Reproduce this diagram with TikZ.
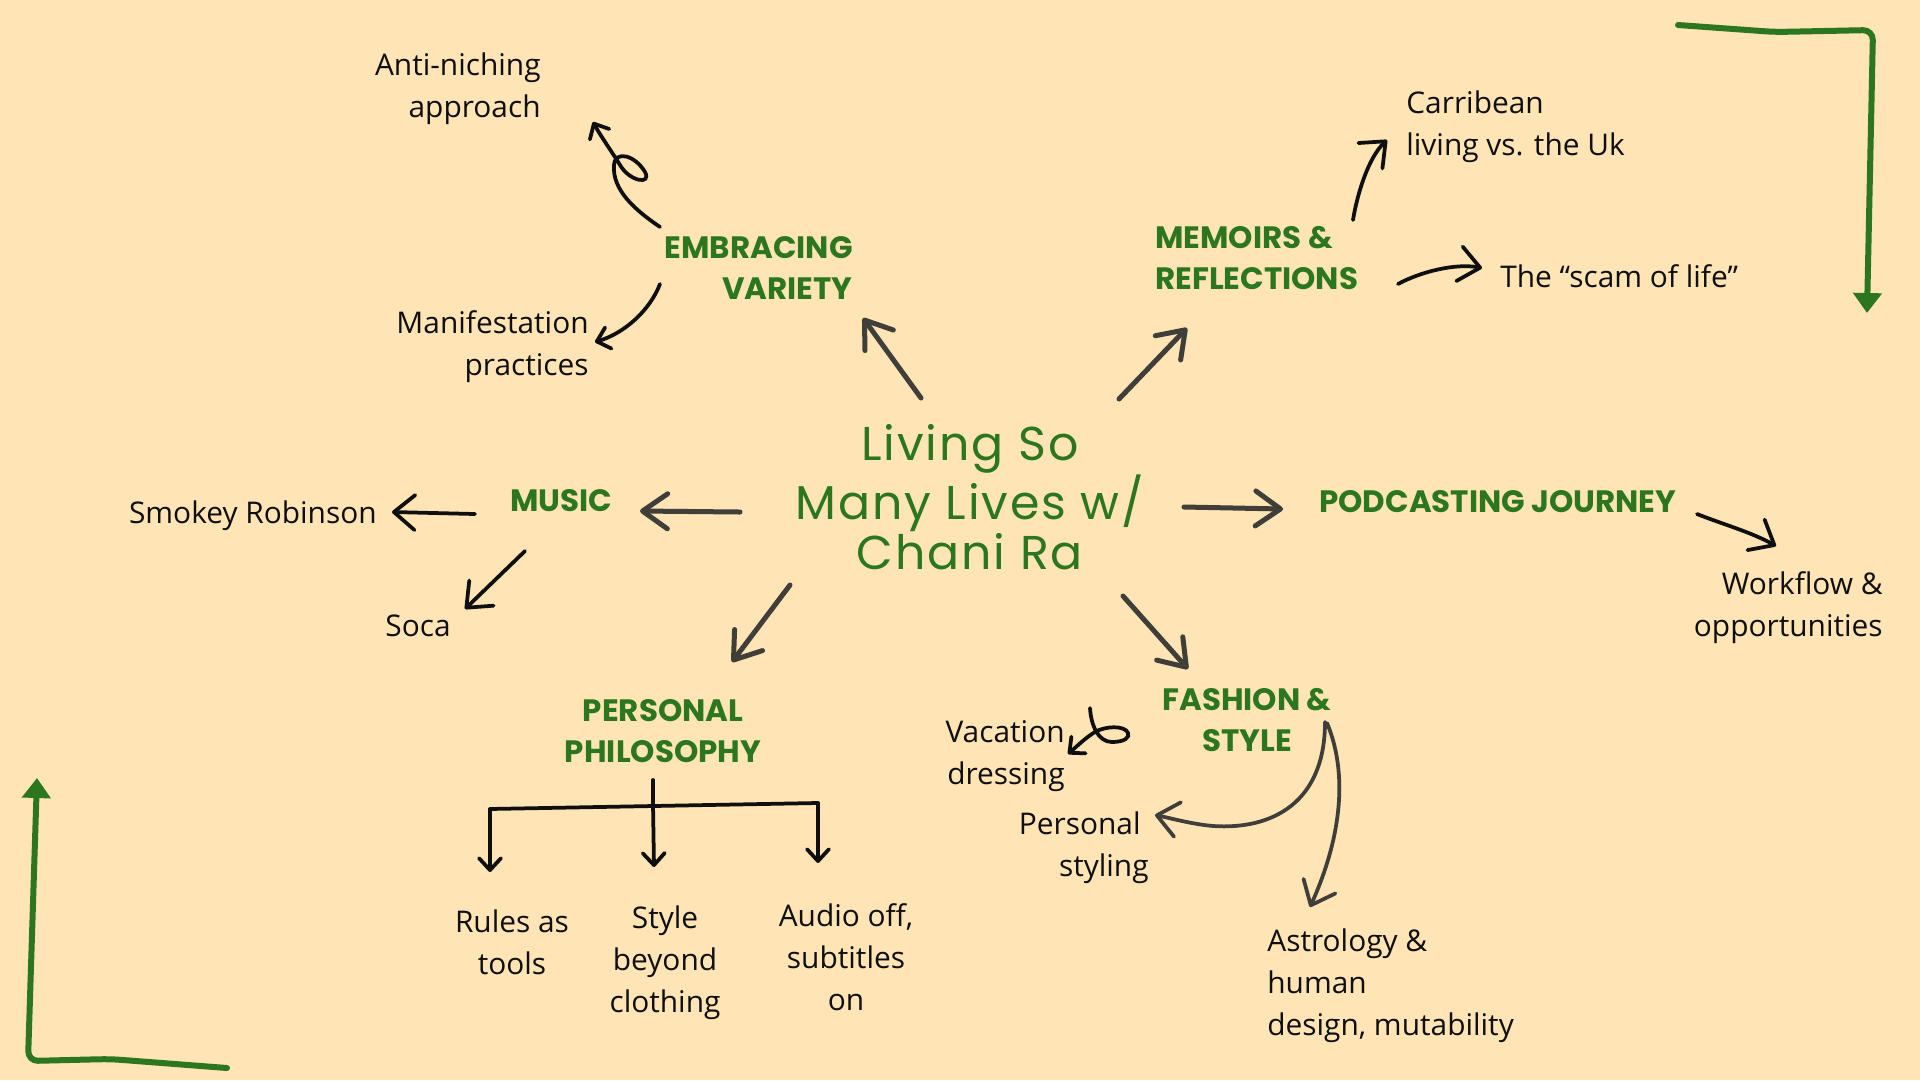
\documentclass[tikz,border=0pt]{standalone}
\usepackage{fontspec}
\setmainfont{Open Sans}
\newfontfamily\headfont{Poppins}
\newfontfamily\titlefont{Poppins}[LetterSpace=4]
\usetikzlibrary{arrows.meta}
\definecolor{bgcream}{HTML}{FFE4B5}
\definecolor{hdgreen}{HTML}{2B761F}
\definecolor{arrgray}{HTML}{3F3E39}
\definecolor{inkblack}{HTML}{0F0F0F}
\tikzset{
	txt/.style={font={\fontsize{17pt}{23.8pt}\selectfont}, text=inkblack, inner sep=0pt, yshift=-2.27pt},
	hdg/.style={font={\headfont\bfseries\fontsize{17.6pt}{23.2pt}\selectfont}, text=hdgreen, inner sep=0pt},
	maintitle/.style={font={\titlefont\fontsize{27pt}{27pt}\selectfont}, text=hdgreen, align=center, inner sep=0pt},
	mainarr/.style={draw=arrgray, line width=0.1cm, line cap=round, -{Straight Barb[round, length=0.5cm, width=0.7cm]}},
	subline/.style={draw=inkblack, line width=0.075cm, line cap=round},
	subarr/.style={subline, -{Straight Barb[round, length=0.24cm, width=0.44cm]}},
	bigsub/.style={subline, -{Straight Barb[round, length=0.42cm, width=0.7cm]}},
	grayarr/.style={bigsub, draw=arrgray},
	greenarr/.style={draw=hdgreen, line width=0.12cm, line cap=round, rounded corners=0.2cm,
		-{Triangle[length=0.4cm, width=0.56cm]}},
}
\begin{document}
\begin{tikzpicture}[x=0.02cm, y=-0.02cm]
	\fill[bgcream] (0,0) rectangle (1920,1080);
	\useasboundingbox (0,0) rectangle (1920,1080);
	
	\node[maintitle] (title) at (970,497) {Living So\\Many Lives w/\\Chani Ra};
	
	\node[hdg, align=right, anchor=east] (embr) at (853,268) {EMBRACING\\VARIETY};
	\node[txt, align=right, anchor=east] (anti) at (541,85) {Anti-niching\\approach};
	\node[txt, align=right, anchor=east] (manif) at (589,343) {Manifestation\\practices};
	
	\node[hdg, align=left, anchor=west] (memo) at (1155,258) {MEMOIRS \&\\REFLECTIONS};
	\node[txt, align=left, anchor=west] (carib) at (1406,123) {Carribean\\living vs. the Uk};
	\node[txt, anchor=west] (scam) at (1500,272) {The “scam of life”};
	
	\node[hdg] (music) at (561,501) {MUSIC};
	\node[txt, anchor=east] (smokey) at (377,512) {Smokey Robinson};
	\node[txt] (soca) at (418,622) {Soca};
	
	\node[hdg, anchor=west] (podcast) at (1319,502) {PODCASTING JOURNEY};
	\node[txt, align=right, anchor=east] (workflow) at (1883,604) {Workflow \&\\opportunities};
	
	\node[hdg, align=center] (philo) at (663,731) {PERSONAL\\PHILOSOPHY};
	\node[txt, align=center] (rules) at (512,938) {Rules as\\tools};
	\node[txt, align=center] (beyond) at (665,959) {Style\\beyond\\clothing};
	\node[txt, align=center] (audio) at (846,953) {Audio off,\\subtitles\\on};
	
	\node[hdg, align=center] (fashion) at (1247,720) {FASHION \&\\STYLE};
	\node[txt, align=right, anchor=east] (vacation) at (1065,752) {Vacation\\dressing};
	\node[txt, align=right, anchor=east] (pstyling) at (1149,844) {Personal\kern0.16cm\\styling};
	\node[txt, align=left, anchor=west] (astro) at (1267,982) {Astrology \&\\human\\design, mutability};
	
	% spokes from the title
	\draw[mainarr] ([shift={(-49,-99)}]title.center) -- ([shift={(10,50)}]embr.east);
	\draw[mainarr] ([shift={(149,-98)}]title.center) -- ([shift={(32,70)}]memo.west);
	\draw[mainarr] ([shift={(-230,15)}]title.center) -- ([shift={(79,10)}]music.center);
	\draw[mainarr] ([shift={(214,10)}]title.center) -- ([shift={(-36,7)}]podcast.west);
	\draw[mainarr] ([shift={(-180,88)}]title.center) -- ([shift={(69,-69)}]philo.center);
	\draw[mainarr] ([shift={(153,99)}]title.center) -- ([shift={(-59,-51)}]fashion.center);
	
	% embracing variety
	\draw[subarr] ([shift={(-193,-41)}]embr.east) .. controls (635,210) and (612,190) .. (614,165)
		.. controls (615,150) and (635,155) .. (645,172)
		.. controls (652,185) and (630,182) .. (620,165)
		.. controls (612,152) and (600,135) .. ([shift={(52,33)}]anti.east);
	\draw[subarr] ([shift={(-193,16)}]embr.east) .. controls +(-10,26) and +(30,-9) .. ([shift={(6,-5)}]manif.east);
	
	% memoirs
	\draw[bigsub] ([shift={(198,-38)}]memo.west) .. controls +(4,-25) and +(-19,18) .. ([shift={(-19,13)}]carib.west);
	\draw[bigsub] ([shift={(243,26)}]memo.west) .. controls +(22,-12) and +(-27,-5) .. ([shift={(-18,-8)}]scam.west);
	
	% music
	\draw[bigsub] ([shift={(-86,13)}]music.center) -- ([shift={(15,-4)}]smokey.east);
	\draw[bigsub] ([shift={(-36,50)}]music.center) -- ([shift={(47,-17)}]soca.center);
	
	% podcasting
	\draw[bigsub] ([shift={(378,12)}]podcast.west) .. controls +(25,10) and +(-25,-14) .. ([shift={(-107,-62)}]workflow.east);
	
	% personal philosophy
	\draw[subline] ([shift={(-10,49)}]philo.center) -- ++(0,24) coordinate (fork);
	\draw[subline] ([shift={(-22,-133)}]rules.center) coordinate (forkl) -- ([shift={(-28,-154)}]audio.center) coordinate (forkr);
	\draw[subarr] (forkl) -- ([shift={(-22,-70)}]rules.center);
	\draw[subarr] (fork) -- ([shift={(-11,-96)}]beyond.center);
	\draw[subarr] (forkr) -- ([shift={(-28,-94)}]audio.center);
	
	% fashion
	\draw[subarr] ([shift={(-157,-12)}]fashion.center) .. controls (1091,725) and (1098,742) .. (1112,742)
		.. controls (1125,742) and (1130,737) .. (1128,733)
		.. controls (1125,725) and (1105,726) .. (1095,732)
		.. controls (1085,738) and (1075,748) .. ([shift={(3,-2)}]vacation.east);
	\draw[grayarr] ([shift={(78,2)}]fashion.center) .. controls +(0,80) and +(60,4) .. (1213,826)
		.. controls +(-22,-2) and +(15,3) .. ([shift={(6,-33)}]pstyling.east);
	\draw[grayarr] ([shift={(80,3)}]fashion.center) .. controls +(25,60) and +(25,-55) .. ([shift={(43,-79)}]astro.west);
	
	% corner marks
	\draw[greenarr] (1678,25) -- (1775,32) -- (1873,30) -- (1867,313);
	\draw[greenarr] (227,1068) -- (110,1059) -- (28,1061) -- (37,778);
\end{tikzpicture}
\end{document}
